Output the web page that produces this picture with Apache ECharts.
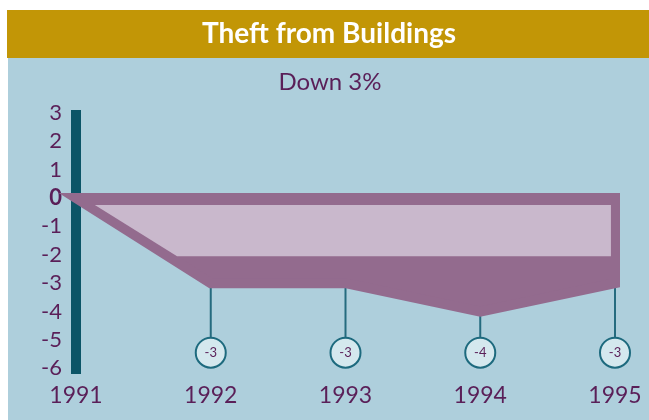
<!DOCTYPE html>
<html>
<head>
<meta charset="utf-8">
<title>Theft from Buildings</title>
<script src="https://cdn.jsdelivr.net/npm/echarts@6/dist/echarts.min.js"></script>
<style>
  html, body { margin: 0; padding: 0; background: #fff; }
  #chart { width: 649px; height: 420px; }
</style>
</head>
<body>
<div id="chart"></div>
<script>
// values
var years = [1991, 1992, 1993, 1994, 1995];
var change = [0, -3, -3, -4, -3];
var yTicks = [3, 2, 1, 0, -1, -2, -3, -4, -5, -6];
// lighter inset panel drawn inside the area
var insetX = [1991.14, 1994.97, 1994.97, 1991.75];
var insetY = [-0.25, -0.25, -2.05, -2.05];
// level of the value bubbles
var bubbleLevel = -5.45;

var purple = '#5a1f58';
var teal = '#0b5567';
var font = 'Lato, "Noto Sans", sans-serif';

var chart = echarts.init(document.getElementById('chart'));

var points = years.map(function (y, i) { return [y, change[i]]; });

var option = {
    backgroundColor: '#ffffff',
    animation: false,
    graphic: [
        { type: 'rect', z: -10, shape: { x: 8, y: 58, width: 641, height: 362 }, style: { fill: '#aecfdc' } },
        { type: 'rect', z: -10, shape: { x: 7, y: 10, width: 642, height: 48 }, style: { fill: '#c29606' } },
        {
            type: 'text', z: 100, x: 329, y: 34,
            style: { text: 'Theft from Buildings', fill: '#ffffff', font: 'bold 28px ' + font,
                     textAlign: 'center', textVerticalAlign: 'middle' }
        },
        {
            type: 'text', z: 100, x: 330, y: 82,
            style: { text: 'Down 3%', fill: purple, font: '24px ' + font,
                     textAlign: 'center', textVerticalAlign: 'middle' }
        }
    ],
    grid: { left: 76, right: 34, top: 110, bottom: 46, outerBoundsMode: 'none' },
    xAxis: {
        type: 'value',
        min: 1991,
        max: 1995,
        interval: 1,
        axisLine: { show: false, onZero: false },
        axisTick: { show: false },
        splitLine: { show: false },
        axisLabel: {
            margin: 10,
            color: purple,
            fontSize: 23,
            fontFamily: font,
            formatter: function (v) { return String(v); }
        }
    },
    yAxis: {
        type: 'value',
        min: -6.2,
        max: 3.1,
        axisLine: { show: true, onZero: false, lineStyle: { color: teal, width: 10, cap: 'butt' } },
        axisTick: { show: false },
        splitLine: { show: false },
        axisLabel: {
            customValues: yTicks,
            margin: 14,
            color: purple,
            fontSize: 22,
            fontFamily: font,
            formatter: function (v) { return v === 0 ? '{b|0}' : String(v); },
            rich: { b: { fontWeight: 'bold', fontSize: 22, color: purple, fontFamily: font } }
        }
    },
    series: [
        {
            // stems from each point down to its bubble
            type: 'custom',
            z: 1,
            clip: false,
            data: points.slice(1),
            renderItem: function (params, api) {
                var p = api.coord([api.value(0), api.value(1)]);
                var q = api.coord([api.value(0), bubbleLevel]);
                return {
                    type: 'line',
                    shape: { x1: p[0], y1: p[1], x2: q[0], y2: q[1] },
                    style: { stroke: '#256b7f', lineWidth: 2 }
                };
            }
        },
        {
            // main area, outlined so it looks thick
            type: 'custom',
            z: 2,
            clip: false,
            data: [points[0]],
            renderItem: function (params, api) {
                var pts = points.map(function (p) { return api.coord(p); });
                pts.push(api.coord([years[years.length - 1], 0]));
                return {
                    type: 'polygon',
                    shape: { points: pts },
                    style: { fill: '#936b8e', stroke: '#936b8e', lineWidth: 10, lineJoin: 'miter' }
                };
            }
        },
        {
            type: 'custom',
            z: 3,
            clip: false,
            data: [points[0]],
            renderItem: function (params, api) {
                var pts = insetX.map(function (x, i) { return api.coord([x, insetY[i]]); });
                return {
                    type: 'polygon',
                    shape: { points: pts },
                    style: { fill: '#c9b8cc' }
                };
            }
        },
        {
            type: 'scatter',
            z: 4,
            symbol: 'circle',
            symbolSize: 30,
            data: points.slice(1).map(function (p) { return [p[0], bubbleLevel, p[1]]; }),
            itemStyle: { color: '#d4e8ee', borderColor: '#1d6a7e', borderWidth: 2, opacity: 1 },
            label: {
                show: true,
                position: 'inside',
                color: purple,
                fontSize: 13,
                fontFamily: font,
                formatter: function (p) { return String(p.data[2]); }
            }
        }
    ]
};

chart.setOption(option);
</script>
</body>
</html>
